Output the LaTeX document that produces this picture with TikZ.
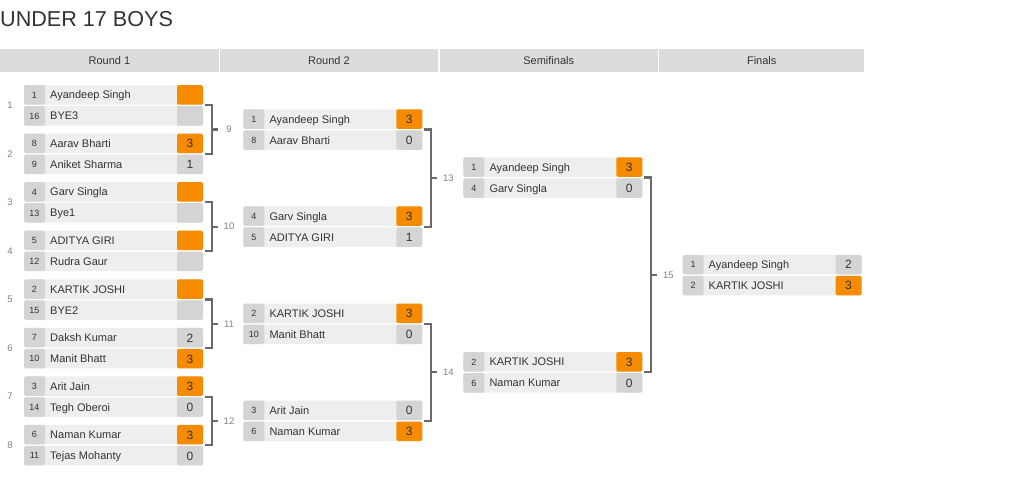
\documentclass[tikz,border=0pt]{standalone}
\usepackage{fontspec}
\setmainfont{Liberation Sans}
\usetikzlibrary{calc}
\definecolor{orng}{HTML}{F68B00}
\definecolor{cellg}{HTML}{D4D4D4}
\definecolor{nameg}{HTML}{EEEEEE}
\definecolor{headg}{HTML}{DCDCDC}
\definecolor{txt}{HTML}{333333}
\definecolor{lblg}{HTML}{808080}
\definecolor{brk}{HTML}{6A6A6A}
\tikzset{
 matchnode/.style={minimum width=179pt, minimum height=40.5pt, inner sep=0pt, outer sep=0pt},
 seedtxt/.style={font=\fontsize{9}{10}\selectfont, text=txt, inner sep=0pt, anchor=base},
 nametxt/.style={font=\fontsize{11}{12}\selectfont, text=txt, inner sep=0pt, anchor=base west},
 scoretxt/.style={font=\fontsize{12}{13}\selectfont, text=txt, inner sep=0pt, anchor=base},
 lbl/.style={font=\fontsize{9.5}{10}\selectfont, text=lblg, inner sep=0pt, anchor=base},
 bracket/.style={draw=brk, line width=2.1pt},
 hdr/.style={fill=headg, minimum height=22.5pt, inner sep=0pt, anchor=north west, font=\fontsize{11}{12}\selectfont, text=txt},
 win/.style={fill=orng}, lose/.style={fill=cellg},
 cellr/.style={rounded corners=1.5pt},
}
\newcommand\matchbox[3]{\node[matchnode] (m#1) at (#2+89.5,#3) {};}
\newcommand\player[6]{%
 \path[fill=nameg, cellr] ($(m#1.north west)+(0,#2)$) rectangle ++(179,19.5);
 \path[fill=cellg, cellr] ($(m#1.north west)+(0,#2)$) rectangle ++(21,19.5);
 \path[#6, cellr] ($(m#1.north west)+(153,#2)$) rectangle ++(26,19.5);
 \node[seedtxt] (m#1s#2) at ($(m#1.north west)+(10.5,#2+13)$) {#3};
 \node[nametxt] (m#1n#2) at ($(m#1.north west)+(26,#2+13.8)$) {#4};
 \node[scoretxt] (m#1p#2) at ($(m#1.north west)+(166,#2+14.2)$) {#5};
}
\newcommand\bracketto[3]{%
 \draw[bracket] ($(m#1.east)+(2,0)$) -- ++(7,0) |- ($(m#2.east)+(2,0)$);
 \coordinate (j#3) at ($(m#1.east)!0.5!(m#2.east)+(9,0)$);
 \draw[bracket] (j#3) -- ++(6,0);
 \node[lbl] (l#3) at ($(j#3)+(17,3.3)$) {#3};
}
\begin{document}
\begin{tikzpicture}[x=1pt,y=-1pt]
\useasboundingbox (0,0) rectangle (1015,491);
\node[anchor=base west, inner sep=0pt, font=\fontsize{21.6}{25}\selectfont, text=txt] (title) at (0,26.5) {UNDER 17 BOYS};
\node[hdr, minimum width=218.5pt] (h1) at (0,49) {Round 1};
\node[hdr, minimum width=217.5pt] (h2) at (220,49) {Round 2};
\node[hdr, minimum width=218pt] (h3) at (439.5,49) {Semifinals};
\node[hdr, minimum width=205pt] (h4) at (659,49) {Finals};
% Round 1
\matchbox{1}{24}{105.25}
\player{1}{0}{1}{Ayandeep Singh}{}{win}
\player{1}{21}{16}{BYE3}{}{lose}
\matchbox{2}{24}{153.82}
\player{2}{0}{8}{Aarav Bharti}{3}{win}
\player{2}{21}{9}{Aniket Sharma}{1}{lose}
\matchbox{3}{24}{202.39}
\player{3}{0}{4}{Garv Singla}{}{win}
\player{3}{21}{13}{Bye1}{}{lose}
\matchbox{4}{24}{250.96}
\player{4}{0}{5}{ADITYA GIRI}{}{win}
\player{4}{21}{12}{Rudra Gaur}{}{lose}
\matchbox{5}{24}{299.53}
\player{5}{0}{2}{KARTIK JOSHI}{}{win}
\player{5}{21}{15}{BYE2}{}{lose}
\matchbox{6}{24}{348.1}
\player{6}{0}{7}{Daksh Kumar}{2}{lose}
\player{6}{21}{10}{Manit Bhatt}{3}{win}
\matchbox{7}{24}{396.67}
\player{7}{0}{3}{Arit Jain}{3}{win}
\player{7}{21}{14}{Tegh Oberoi}{0}{lose}
\matchbox{8}{24}{445.24}
\player{8}{0}{6}{Naman Kumar}{3}{win}
\player{8}{21}{11}{Tejas Mohanty}{0}{lose}
\foreach \k in {1,...,8}{\node[lbl] (l\k) at ($(10,0)+(0,{105.25+48.57*(\k-1)+3.3})$) {\k};}
% Round 2
\matchbox{9}{243.3}{129.5}
\player{9}{0}{1}{Ayandeep Singh}{3}{win}
\player{9}{21}{8}{Aarav Bharti}{0}{lose}
\matchbox{10}{243.3}{226.6}
\player{10}{0}{4}{Garv Singla}{3}{win}
\player{10}{21}{5}{ADITYA GIRI}{1}{lose}
\matchbox{11}{243.3}{323.8}
\player{11}{0}{2}{KARTIK JOSHI}{3}{win}
\player{11}{21}{10}{Manit Bhatt}{0}{lose}
\matchbox{12}{243.3}{420.9}
\player{12}{0}{3}{Arit Jain}{0}{lose}
\player{12}{21}{6}{Naman Kumar}{3}{win}
% Semifinals
\matchbox{13}{463.3}{177.5}
\player{13}{0}{1}{Ayandeep Singh}{3}{win}
\player{13}{21}{4}{Garv Singla}{0}{lose}
\matchbox{14}{463.3}{372.3}
\player{14}{0}{2}{KARTIK JOSHI}{3}{win}
\player{14}{21}{6}{Naman Kumar}{0}{lose}
% Finals
\matchbox{15}{682.5}{275}
\player{15}{0}{1}{Ayandeep Singh}{2}{lose}
\player{15}{21}{2}{KARTIK JOSHI}{3}{win}
% Brackets
\bracketto{1}{2}{9}
\bracketto{3}{4}{10}
\bracketto{5}{6}{11}
\bracketto{7}{8}{12}
\bracketto{9}{10}{13}
\bracketto{11}{12}{14}
\bracketto{13}{14}{15}
\end{tikzpicture}
\end{document}
